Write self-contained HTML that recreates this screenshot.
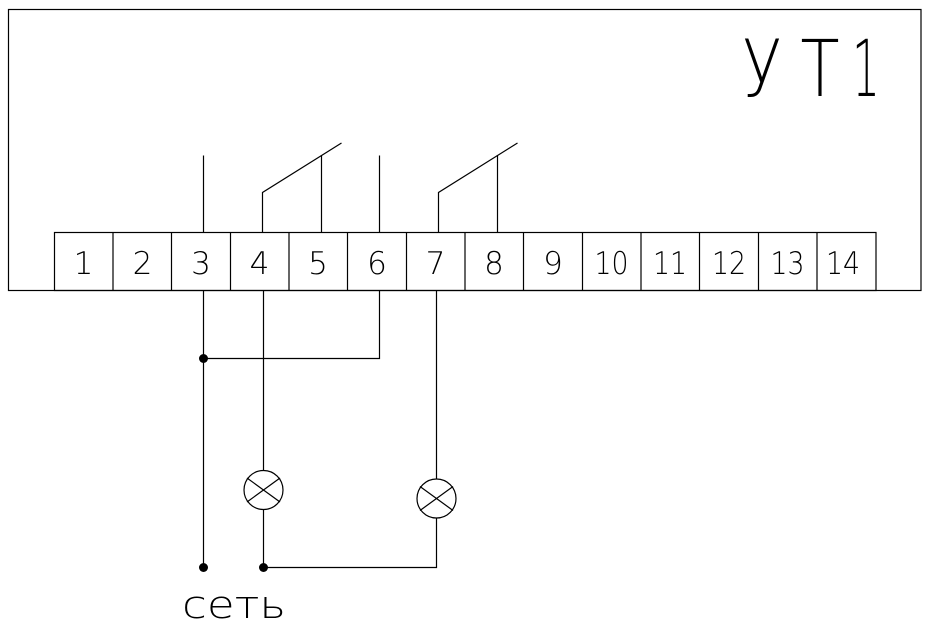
<!DOCTYPE html>
<html>
<head>
<meta charset="utf-8">
<style>
html,body{margin:0;padding:0;background:#fff;}
svg{display:block;}
.d{font-family:"DejaVu Sans","Liberation Sans",sans-serif;font-weight:200;font-size:31px;fill:#000;}
</style>
</head>
<body>
<svg width="926" height="629" viewBox="0 0 926 629" xmlns="http://www.w3.org/2000/svg">
<g fill="none" stroke="#000" stroke-width="1.2">
  <rect x="8.5" y="9.5" width="912.5" height="281"/>
  <rect x="54.5" y="232.5" width="821.5" height="58"/>
  <line x1="113" y1="232.5" x2="113" y2="290.5"/>
  <line x1="171.5" y1="232.5" x2="171.5" y2="290.5"/>
  <line x1="230.5" y1="232.5" x2="230.5" y2="290.5"/>
  <line x1="289" y1="232.5" x2="289" y2="290.5"/>
  <line x1="347.5" y1="232.5" x2="347.5" y2="290.5"/>
  <line x1="406.5" y1="232.5" x2="406.5" y2="290.5"/>
  <line x1="465" y1="232.5" x2="465" y2="290.5"/>
  <line x1="523.5" y1="232.5" x2="523.5" y2="290.5"/>
  <line x1="582.5" y1="232.5" x2="582.5" y2="290.5"/>
  <line x1="641" y1="232.5" x2="641" y2="290.5"/>
  <line x1="699.5" y1="232.5" x2="699.5" y2="290.5"/>
  <line x1="758.5" y1="232.5" x2="758.5" y2="290.5"/>
  <line x1="817" y1="232.5" x2="817" y2="290.5"/>

  <line x1="203.5" y1="155.5" x2="203.5" y2="232.5"/>
  <polyline points="262.5,232.5 262.5,192.5 341.5,143"/>
  <line x1="321.5" y1="155" x2="321.5" y2="232.5"/>
  <line x1="379.5" y1="155.5" x2="379.5" y2="232.5"/>
  <polyline points="438.5,232.5 438.5,192.5 517.5,143"/>
  <line x1="497.5" y1="155" x2="497.5" y2="232.5"/>

  <line x1="203.5" y1="290.5" x2="203.5" y2="567.5"/>
  <polyline points="203.5,358.5 379.5,358.5 379.5,290.5"/>
  <line x1="263.5" y1="290.5" x2="263.5" y2="470.5"/>
  <line x1="263.5" y1="509.5" x2="263.5" y2="567.5"/>
  <polyline points="263.5,567.5 436.5,567.5 436.5,518"/>
  <line x1="436.5" y1="290.5" x2="436.5" y2="479"/>

  <circle cx="263.5" cy="490" r="19.5"/>
  <line x1="247" y1="478" x2="280" y2="502"/>
  <line x1="247" y1="502" x2="280" y2="478"/>
  <circle cx="436.5" cy="498.5" r="19.5"/>
  <line x1="420" y1="486.5" x2="453" y2="510.5"/>
  <line x1="420" y1="510.5" x2="453" y2="486.5"/>
</g>

<g fill="#000">
  <circle cx="203.5" cy="358.5" r="4.5"/>
  <circle cx="203.5" cy="567.5" r="4.5"/>
  <circle cx="263.5" cy="567.5" r="4.5"/>
</g>

<g class="d" text-anchor="middle">
  <text x="83.5" y="274">1</text>
  <text x="142.5" y="274">2</text>
  <text x="201" y="274">3</text>
  <text x="259.5" y="274">4</text>
  <text x="318" y="274">5</text>
  <text x="377" y="274">6</text>
  <text x="435.5" y="274">7</text>
  <text x="494" y="274">8</text>
  <text x="553" y="274">9</text>
  <text x="611.5" y="274" textLength="34" lengthAdjust="spacingAndGlyphs">10</text>
  <text x="670" y="274" textLength="34" lengthAdjust="spacingAndGlyphs">11</text>
  <text x="729" y="274" textLength="34" lengthAdjust="spacingAndGlyphs">12</text>
  <text x="787.5" y="274" textLength="34" lengthAdjust="spacingAndGlyphs">13</text>
  <text x="843" y="274" textLength="34" lengthAdjust="spacingAndGlyphs">14</text>
</g>

<g font-family="DejaVu Sans, Liberation Sans, sans-serif" font-weight="200" font-size="78" fill="#000" text-anchor="middle">
  <text x="762" y="96" textLength="40" lengthAdjust="spacingAndGlyphs">У</text>
  <text x="820" y="96" textLength="39" lengthAdjust="spacingAndGlyphs">Т</text>
  <text x="866" y="96" textLength="28" lengthAdjust="spacingAndGlyphs">1</text>
</g>

<text x="182" y="618" font-family="DejaVu Sans, Liberation Sans, sans-serif" font-weight="200" font-size="38" fill="#000" textLength="104" lengthAdjust="spacingAndGlyphs">сеть</text>
</svg>
</body>
</html>
